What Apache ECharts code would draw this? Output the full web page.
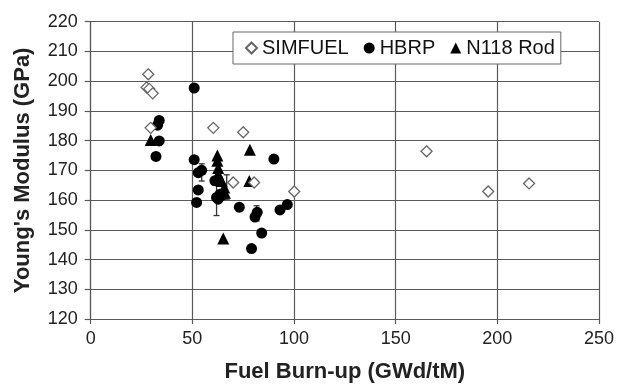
<!DOCTYPE html>
<html>
<head>
<meta charset="utf-8">
<script src="https://cdn.jsdelivr.net/npm/echarts@6/dist/echarts.min.js"></script>
<style>
html, body { margin: 0; padding: 0; background: #fff; }
#chart { width: 617px; height: 388px; }
</style>
</head>
<body>
<div id="chart"></div>
<script>
// burn-up (GWd/tM), modulus (GPa)
var simfuel = [
	[28.3, 202.3], [27.5, 197.9], [28.8, 197.4], [30.5, 195.9], [29.5, 184.3],
	[60.3, 184.3], [75.0, 182.8], [70.1, 165.9], [80.4, 165.9], [100.1, 162.9],
	[165.2, 176.4], [195.5, 162.9], [215.6, 165.6]
];
var hbrp = [
	[50.9, 197.7], [33.7, 186.8], [32.9, 185.2], [33.7, 179.9], [32.1, 174.7],
	[50.9, 173.6], [90.1, 173.8], [52.9, 169.2], [54.6, 170.0], [61.1, 166.5],
	[52.9, 163.4], [52.1, 159.2], [61.9, 160.9], [62.7, 160.3], [63.6, 162.0],
	[64.4, 161.5], [73.1, 157.6], [81.9, 155.9], [80.8, 154.3], [84.1, 148.9],
	[79.1, 143.7], [93.1, 156.7], [96.7, 158.5]
];
var n118 = [
	[29.5, 180.2], [78.3, 176.9], [78.0, 166.4], [65.2, 147.1],
	[62.3, 175.0], [62.3, 173.2], [62.7, 170.8], [62.7, 168.8],
	[64.4, 166.4], [65.7, 164.2], [66.0, 162.5]
];
// x, low, high
var errBars = [
	[54.6, 166.4, 172.2],
	[61.9, 154.8, 167.2],
	[66.9, 160.3, 168.5],
	[81.6, 153.0, 158.1]
];
var xTicks = [0, 50, 100, 150, 200, 250];
var yTicks = [120, 130, 140, 150, 160, 170, 180, 190, 200, 210, 220];

var font = "'Liberation Sans', Arial, sans-serif";
var lineCol = '#5a5a5a';

var chart = echarts.init(document.getElementById('chart'));

chart.setOption({
	animation: false,
	backgroundColor: '#fff',
	textStyle: { fontFamily: font },
	grid: { left: 90.7, right: 17.7, top: 21.7, bottom: 64.7 },
	legend: {
		left: 233,
		top: 32,
		padding: [6, 6, 6, 12],
		itemGap: 15,
		itemWidth: 11,
		itemHeight: 11,
		backgroundColor: '#fff',
		borderColor: '#666',
		borderWidth: 1,
		borderRadius: 0,
		textStyle: { fontSize: 20, color: '#111', fontFamily: font },
		data: ['SIMFUEL', 'HBRP', 'N118 Rod']
	},
	xAxis: {
		type: 'value',
		min: xTicks[0],
		max: xTicks[xTicks.length - 1],
		interval: 50,
		name: 'Fuel Burn-up (GWd/tM)',
		nameLocation: 'middle',
		nameGap: 42,
		nameTextStyle: { fontSize: 22, fontWeight: 'bold', color: '#222', fontFamily: font },
		axisLine: { lineStyle: { color: lineCol, width: 1.2 } },
		axisTick: { show: true, length: 5, lineStyle: { color: lineCol, width: 1.2 } },
		axisLabel: { fontSize: 18, color: '#222', margin: 11, fontFamily: font },
		splitLine: { show: true, lineStyle: { color: lineCol, width: 1.2 } }
	},
	yAxis: {
		type: 'value',
		min: yTicks[0],
		max: yTicks[yTicks.length - 1],
		interval: 10,
		name: "Young's Modulus (GPa)",
		nameLocation: 'middle',
		nameGap: 57,
		nameTextStyle: { fontSize: 22, fontWeight: 'bold', color: '#222', fontFamily: font },
		axisLine: { show: true, lineStyle: { color: lineCol, width: 1.2 } },
		axisTick: { show: true, length: 6, lineStyle: { color: lineCol, width: 1.2 } },
		axisLabel: { fontSize: 18, color: '#222', margin: 13, fontFamily: font },
		splitLine: { show: true, lineStyle: { color: lineCol, width: 1.2 } }
	},
	series: [{
		type: 'custom',
		name: 'err',
		data: errBars,
		z: 1,
		renderItem: function(params, api) {
			var x = api.value(0);
			var lo = api.coord([x, api.value(1)]);
			var hi = api.coord([x, api.value(2)]);
			var c = 3;
			var st = { stroke: '#333', lineWidth: 1.3 };
			return {
				type: 'group',
				children: [
					{ type: 'line', shape: { x1: lo[0], y1: lo[1], x2: hi[0], y2: hi[1] }, style: st },
					{ type: 'line', shape: { x1: lo[0] - c, y1: lo[1], x2: lo[0] + c, y2: lo[1] }, style: st },
					{ type: 'line', shape: { x1: hi[0] - c, y1: hi[1], x2: hi[0] + c, y2: hi[1] }, style: st }
				]
			};
		}
	}, {
		name: 'SIMFUEL',
		type: 'scatter',
		symbol: 'diamond',
		symbolSize: 11,
		z: 3,
		itemStyle: { color: '#fff', borderColor: '#666', borderWidth: 1.3, opacity: 1 },
		data: simfuel
	}, {
		name: 'HBRP',
		type: 'scatter',
		symbol: 'circle',
		symbolSize: 11,
		z: 2,
		itemStyle: { color: '#000', opacity: 1 },
		data: hbrp
	}, {
		name: 'N118 Rod',
		type: 'scatter',
		symbol: 'triangle',
		symbolSize: 12,
		z: 2,
		itemStyle: { color: '#000', opacity: 1 },
		data: n118
	}]
});
</script>
</body>
</html>
